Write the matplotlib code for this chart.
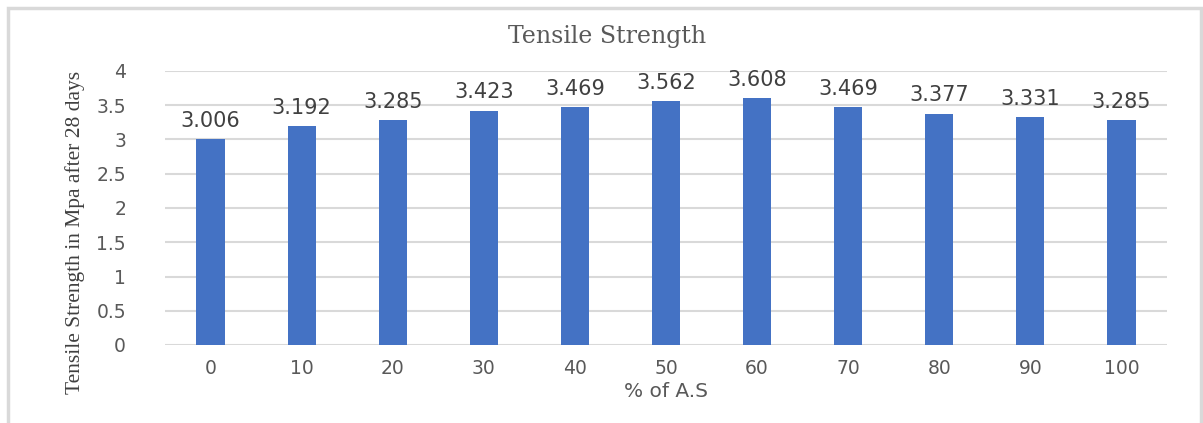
import numpy as np
import matplotlib
matplotlib.use("Agg")
import matplotlib.pyplot as plt
from matplotlib.patches import Rectangle

# replacement level of A.S (%) and 28-day tensile strength (MPa)
categories = ["0", "10", "20", "30", "40", "50", "60", "70", "80", "90", "100"]
strength = [3.006, 3.192, 3.285, 3.423, 3.469, 3.562, 3.608, 3.469, 3.377, 3.331, 3.285]
yticks = [0, 0.5, 1, 1.5, 2, 2.5, 3, 3.5, 4]

fig = plt.figure(figsize=(12.03, 4.23), dpi=100)

# light chart frame (bottom edge runs off the image)
fig.patches.append(Rectangle((8 / 1203, -0.1), 1193 / 1203, 1.1 - 8.5 / 423,
                             transform=fig.transFigure, fill=False,
                             edgecolor="#d9d9d9", lw=2.5))

ax = fig.add_axes([165 / 1203, 1 - 345 / 423, 1002 / 1203, 274 / 423])
x = np.arange(len(categories))
bars = ax.bar(x, strength, width=0.31, color="#4472C4", zorder=3)

for rect, v in zip(bars, strength):
    ax.text(rect.get_x() + rect.get_width() / 2, v + 0.12, "%.3f" % v,
            ha="center", va="bottom", fontsize=15, color="#404040")

ax.set_xlim(-0.5, len(categories) - 0.5)
ax.set_ylim(0, 4)
ax.set_yticks(yticks)
ax.set_yticklabels([("%g" % t) for t in yticks])
ax.set_xticks(x)
ax.set_xticklabels(categories)
ax.tick_params(axis="both", length=0, labelsize=13.5, colors="#595959")
ax.tick_params(axis="y", pad=28)
ax.tick_params(axis="x", pad=10)
ax.grid(axis="y", color="#d9d9d9", lw=1.5, zorder=0)
for s in ax.spines.values():
    s.set_visible(False)

ax.set_xlabel("% of A.S", fontsize=14.5, color="#595959", labelpad=3)
fig.text(75 / 1203, 1 - 232 / 423, "Tensile Strength in Mpa after 28 days",
         rotation=90, ha="center", va="center", fontsize=15.5,
         family="Liberation Serif", color="#404040")
fig.text(607 / 1203, 1 - 36 / 423, "Tensile Strength", ha="center", va="center",
         fontsize=17, family="DejaVu Serif", color="#595959")

fig.savefig("out.png", dpi=100)
